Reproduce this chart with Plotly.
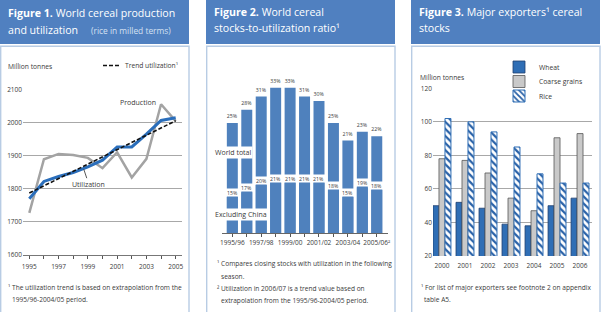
import plotly.graph_objects as go

W, H = 605, 312

# ---------------- data ----------------
years1 = [1995, 1996, 1997, 1998, 1999, 2000, 2001, 2002, 2003, 2004, 2005]
production = [1727, 1889, 1905, 1902, 1893, 1862, 1910, 1834, 1890, 2055, 2004]
utilization = [1770, 1822, 1837, 1849, 1866, 1886, 1926, 1926, 1965, 2006, 2014]
trend_years = [1995, 2005]
trend_util = [1787, 2005]
x1_ticklabels = ["1995", "", "1997", "", "1999", "", "2001", "", "2003", "", "2005"]

seasons = ["1995/96", "1996/97", "1997/98", "1998/99", "1999/00", "2000/01",
           "2001/02", "2002/03", "2003/04", "2004/05", "2005/06"]
world_total = [25, 28, 31, 33, 33, 31, 30, 25, 21, 23, 22]
excl_china = [15, 17, 20, 21, 21, 21, 21, 18, 15, 19, 18]
season_ticklabels = ["1995/96", "", "1997/98", "", "1999/00", "", "2001/02", "",
                     "2003/04", "", "2005/06²"]

years3 = ["2000", "2001", "2002", "2003", "2004", "2005", "2006"]
wheat = [50, 52, 48.5, 39, 38, 50, 54.5]
coarse = [78, 77, 69.5, 54.5, 47, 90.5, 93]
rice = [102, 100, 94, 85, 69, 63.5, 63.5]

# ---------------- helpers ----------------
def px(x):
    return x / W

def py(y):
    return 1 - y / H

FONT = "Open Sans"
HEADER = "#5080C0"
BORDER = "#B8CCE4"
GRID = "#A8A8A8"
TXT = "#3A3A3A"
FN = 6.6  # footnote size

fig = go.Figure()

# ---- Figure 1 ----
fig.add_trace(go.Scatter(x=years1, y=production, mode="lines", xaxis="x", yaxis="y",
                         line=dict(color="#A3A3A3", width=2.5), showlegend=False,
                         name="Production"))
fig.add_trace(go.Scatter(x=years1, y=utilization, mode="lines", xaxis="x", yaxis="y",
                         line=dict(color="#2A6EBB", width=3), showlegend=False,
                         name="Utilization"))
fig.add_trace(go.Scatter(x=trend_years, y=trend_util, mode="lines", xaxis="x", yaxis="y",
                         line=dict(color="#111111", width=1.6, dash="4px,2px"),
                         showlegend=False, name="Trend utilization"))

# ---- Figure 2 ----
fig.add_trace(go.Bar(x=list(range(len(seasons))), y=world_total, xaxis="x2", yaxis="y2",
                     marker=dict(color="#4F81BD", line=dict(width=0)),
                     width=0.76, offset=-0.38, showlegend=False, name="World total",
                     text=[f"{v}%" for v in world_total], textposition="outside",
                     textfont=dict(size=5.2, color=TXT, family=FONT), cliponaxis=False))
fig.add_trace(go.Bar(x=list(range(len(seasons))), y=excl_china, xaxis="x2", yaxis="y3",
                     marker=dict(color="#4F81BD", line=dict(width=0)),
                     width=0.76, offset=-0.38, showlegend=False, name="Excluding China"))

# ---- Figure 3 ----
fig.add_trace(go.Bar(x=years3, y=wheat, xaxis="x3", yaxis="y4", name="Wheat",
                     marker=dict(color="#2F6EB5", line=dict(color="#1E3F70", width=0.8)),
                     width=0.26, offset=-0.39, legend="legend"))
fig.add_trace(go.Bar(x=years3, y=coarse, xaxis="x3", yaxis="y4", name="Coarse grains",
                     marker=dict(color="#C9C9C9", line=dict(color="#555555", width=0.8)),
                     width=0.26, offset=-0.13, legend="legend2"))
fig.add_trace(go.Bar(x=years3, y=rice, xaxis="x3", yaxis="y4", name="Rice",
                     marker=dict(color="white", line=dict(color="#2F6EB5", width=1),
                                 pattern=dict(shape="\\", fgcolor="#2A62A8", bgcolor="white",
                                              size=5, solidity=0.45)),
                     width=0.26, offset=0.13, legend="legend3"))

tickfont = dict(family=FONT, size=6.5, color=TXT)

fig.update_layout(
    template="none",
    width=W, height=H, margin=dict(l=0, r=0, t=0, b=0, pad=0, autoexpand=False),
    paper_bgcolor="white", plot_bgcolor="rgba(0,0,0,0)",
    font=dict(family=FONT, color=TXT),
    barmode="overlay",
    xaxis=dict(domain=[px(23), px(182)], range=[1994.57, 2005.43], anchor="y",
               tickvals=years1, ticktext=x1_ticklabels, ticks="outside", ticklen=3,
               tickcolor="#555", showline=True, linecolor="#777", linewidth=1.2,
               showgrid=False, zeroline=False, tickfont=tickfont, ticklabelstandoff=2,
               automargin=False),
    yaxis=dict(domain=[py(255), py(89.3)], range=[1600, 2100], anchor="x",
               tickvals=[1600, 1700, 1800, 1900, 2000, 2100], showgrid=True,
               gridcolor=GRID, gridwidth=1.3, zeroline=False, showline=False,
               tickfont=tickfont, ticks="", automargin=False),
    xaxis2=dict(domain=[px(221.5), px(387.6)], range=[-0.75, 10.75], anchor="y2",
                tickvals=list(range(len(seasons))), ticktext=season_ticklabels,
                ticks="outside", ticklen=3, tickcolor="#555", showline=True,
                linecolor="#666", linewidth=1, showgrid=False, zeroline=False,
                tickfont=tickfont, automargin=False),
    yaxis2=dict(domain=[py(233), py(80)], range=[0, 153 / 4.4], anchor="x2",
                visible=False, showgrid=False, automargin=False),
    yaxis3=dict(domain=[py(233), py(80)], range=[0, 153 / 2.4], anchor="x2",
                overlaying="y2", visible=False, showgrid=False, automargin=False),
    xaxis3=dict(domain=[px(433), px(592)], range=[-0.39, 6.52], anchor="y4",
                type="category", showline=False, showgrid=False, zeroline=False,
                ticks="", tickfont=tickfont, ticklabelstandoff=4, automargin=False),
    yaxis4=dict(domain=[py(256), py(88.3)], range=[20, 120], anchor="x3",
                tickvals=[20, 40, 60, 80, 100, 120], showgrid=True, gridcolor=GRID,
                gridwidth=1.3, zeroline=False, showline=False, tickfont=tickfont,
                ticks="", automargin=False),
)

leg_common = dict(bgcolor="rgba(0,0,0,0)", font=dict(family=FONT, size=6.8, color=TXT),
                  xanchor="left", yanchor="middle", itemwidth=30, borderwidth=0)
fig.update_layout(
    legend=dict(x=px(499), y=py(67), **leg_common),
    legend2=dict(x=px(499), y=py(81.5), **leg_common),
    legend3=dict(x=px(499), y=py(96), **leg_common),
)

shapes = []
# headers and panel bodies
for x0, x1 in [(0, 189), (206, 395), (411, 600)]:
    shapes.append(dict(type="rect", xref="paper", yref="paper", x0=px(x0), x1=px(x1),
                       y0=py(44), y1=py(0), fillcolor=HEADER, line=dict(width=0),
                       layer="below"))
    shapes.append(dict(type="rect", xref="paper", yref="paper", x0=px(x0 + 0.7), x1=px(x1),
                       y0=py(330), y1=py(46.3), fillcolor="rgba(0,0,0,0)",
                       line=dict(color=BORDER, width=1.4), layer="below"))
# legend key for trend utilization (panel 1)
shapes.append(dict(type="line", xref="paper", yref="paper", x0=px(103), x1=px(120),
                   y0=py(65.5), y1=py(65.5), line=dict(color="#111", width=1.6, dash="4px,2px")))
# legend backdrop over 120 gridline (panel 3)
shapes.append(dict(type="rect", xref="paper", yref="paper", x0=px(508), x1=px(578),
                   y0=py(91), y1=py(86), fillcolor="white", line=dict(width=0), layer="above"))
fig.update_layout(shapes=shapes)

ann = []

def txt(x, y, t, size=FN, color=TXT, xanchor="left", **kw):
    ann.append(dict(x=px(x), y=py(y), xref="paper", yref="paper", text=t, showarrow=False,
                    xanchor=xanchor, yanchor="middle",
                    font=dict(family=FONT, size=size, color=color), **kw))

# titles
txt(6, 13.5, "<b>Figure 1.</b> World cereal production", size=10.6, color="white")
txt(6, 30, "and utilization", size=10.6, color="white")
txt(89, 30.5, "(rice in milled terms)", size=8.4, color="#D5E0F2")
txt(212, 12.5, "<b>Figure 2.</b> World cereal", size=10.6, color="white")
txt(212, 28, "stocks-to-utilization ratio¹", size=10.6, color="white")
txt(417, 12.5, "<b>Figure 3.</b> Major exporters¹ cereal", size=10.6, color="white")
txt(417, 28, "stocks", size=10.6, color="white")

# panel 1 texts
txt(6, 66, "Million tonnes", size=6.7)
txt(123, 65.5, "Trend utilization¹", size=6.7)
ann.append(dict(x=2002.4, y=2059, xref="x", yref="y", text="Production", showarrow=False,
                font=dict(family=FONT, size=7, color=TXT)))
ann.append(dict(x=1998.72, y=1859, xref="x", yref="y", text="Utilization", showarrow=True,
                arrowhead=0, arrowwidth=0.9, arrowcolor="#444", ax=5, ay=15,
                font=dict(family=FONT, size=7, color=TXT)))
txt(6, 287, "¹ The utilization trend is based on extrapolation from the")
txt(10, 299.5, "1995/96-2004/05 period.")

# panel 2 texts
for i, v in enumerate(excl_china):
    ann.append(dict(x=i, y=v, xref="x2", yref="y3", text=f"{v}%", showarrow=False,
                    yanchor="bottom", bgcolor="white", width=12, height=6, borderpad=0.5,
                    font=dict(family=FONT, size=5.2, color=TXT)))
txt(232.5, 152.5, "World total", size=7, xanchor="center", bgcolor="white", borderpad=1)
txt(240.5, 214, "Excluding China", size=7, xanchor="center", bgcolor="white", borderpad=1)
txt(215, 263.5, "¹ Compares closing stocks with utilization in the following")
txt(219, 276.5, "season.")
txt(215, 288.5, "² Utilization in 2006/07 is a trend value based on")
txt(219, 300, "extrapolation from the 1995/96-2004/05 period.")

# panel 3 texts
txt(418, 77, "Million tonnes", size=6.7)
txt(419, 287, "¹ For list of major exporters see footnote 2 on appendix")
txt(422, 299, "table A5.")

fig.update_layout(annotations=ann)

fig.write_html("out.html", config={"displayModeBar": False},
               post_script="document.body.style.margin='0px';document.body.style.padding='0px';")
